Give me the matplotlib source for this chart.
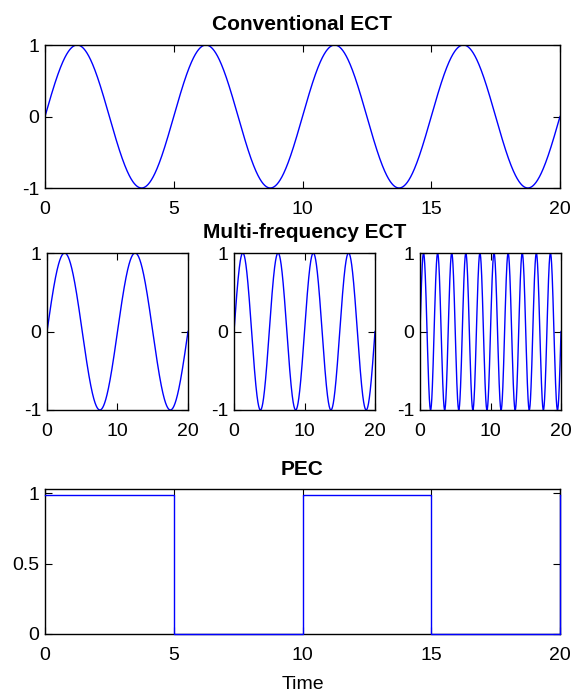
import numpy as np
import matplotlib.pyplot as plt

plt.rcParams['font.family'] = ['Liberation Sans', 'DejaVu Sans']

# signal parameters
t_end = 20
conv_period = 5                 # conventional ECT: single sine, period 5
multi_periods = [10, 5, 2]      # multi-frequency ECT panels
pec_edges = [0, 5, 10, 15, 20]  # PEC switching times
pec_levels = [0.985, 0.0, 0.985, 0.0, 0.985]

t = np.linspace(0, t_end, 2001)
BLUE = '#0000ff'


def style(ax, xticks, yticks, ylim):
    ax.set_xlim(0, t_end)
    ax.set_ylim(*ylim)
    ax.set_xticks(xticks)
    ax.set_yticks(yticks)
    ax.tick_params(direction='in', top=True, right=True, labelsize=14,
                   length=5, width=0.8)
    ax.tick_params(axis='x', pad=9)
    ax.tick_params(axis='y', pad=4)
    for s in ax.spines.values():
        s.set_linewidth(1.0)


fig = plt.figure(figsize=(5.74, 6.93), dpi=100)
W, H = 574, 693


def add_ax(x0, y0, x1, y1):
    return fig.add_axes([x0 / W, 1 - y1 / H, (x1 - x0) / W, (y1 - y0) / H])


# Conventional ECT
ax = add_ax(45, 45, 560, 188)
ax.plot(t, np.sin(2 * np.pi * t / conv_period), color=BLUE, lw=1)
style(ax, [0, 5, 10, 15, 20], [-1, 0, 1], (-1, 1))
ax.set_yticklabels(['-1', '0', '1'])
ax.set_title('Conventional ECT', fontsize=15, fontweight='bold', pad=10.5)

# Multi-frequency ECT
lefts = [47, 234, 420]
for i, p in enumerate(multi_periods):
    ax = add_ax(lefts[i], 253, lefts[i] + 141, 410)
    ax.plot(t, np.sin(2 * np.pi * t / p), color=BLUE, lw=1)
    style(ax, [0, 10, 20], [-1, 0, 1], (-1, 1))
    ax.set_yticklabels(['-1', '0', '1'])
    if i == 1:
        ax.set_title('Multi-frequency ECT', fontsize=15, fontweight='bold', pad=11)

# PEC
ax = add_ax(45, 489, 560, 634)
ax.step(pec_edges, pec_levels, where='post', color=BLUE, lw=1, clip_on=False, zorder=3)
style(ax, [0, 5, 10, 15, 20], [0, 0.5, 1], (0, 1.03))
ax.set_yticklabels(['0', '0.5', '1'])
ax.set_title('PEC', fontsize=15, fontweight='bold', pad=10)
ax.set_xlabel('Time', fontsize=14, labelpad=9)

fig.savefig('out.png', dpi=100)
